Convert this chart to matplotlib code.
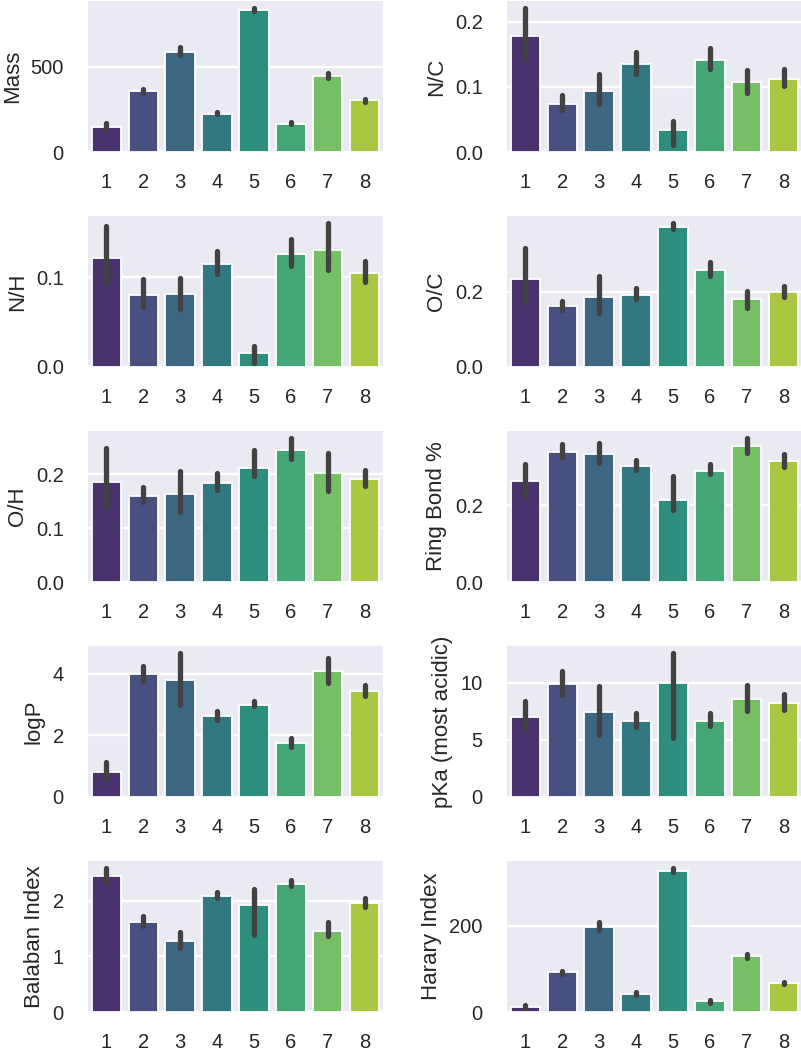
import colorsys
import numpy as np
import matplotlib
matplotlib.use("Agg")
import matplotlib.pyplot as plt

# ---------------- data ----------------
categories = ["1", "2", "3", "4", "5", "6", "7", "8"]

mass_mean = [149, 358, 585, 223, 831, 165, 446, 304]
mass_lo = [136, 347, 570, 221, 827, 163, 434, 295]
mass_hi = [170, 370, 616, 233, 843, 174, 465, 312]
mass_ticks = [0, 500]

nc_mean = [0.178, 0.073, 0.094, 0.135, 0.033, 0.141, 0.107, 0.112]
nc_lo = [0.142, 0.065, 0.074, 0.120, 0.011, 0.128, 0.091, 0.101]
nc_hi = [0.2205, 0.087, 0.119, 0.153, 0.048, 0.159, 0.125, 0.127]
nc_ticks = [0.0, 0.1, 0.2]

nh_mean = [0.1216, 0.080, 0.081, 0.115, 0.016, 0.126, 0.131, 0.1045]
nh_lo = [0.094, 0.067, 0.065, 0.104, 0.004, 0.113, 0.108, 0.0944]
nh_hi = [0.157, 0.0985, 0.0996, 0.129, 0.024, 0.143, 0.1606, 0.118]
nh_ticks = [0.0, 0.1]

oc_mean = [0.2326, 0.162, 0.185, 0.192, 0.371, 0.257, 0.180, 0.199]
oc_lo = [0.1727, 0.1515, 0.1436, 0.1815, 0.3674, 0.241, 0.1577, 0.186]
oc_hi = [0.317, 0.176, 0.242, 0.209, 0.3815, 0.279, 0.2026, 0.214]
oc_ticks = [0.0, 0.2]

oh_mean = [0.185, 0.160, 0.163, 0.184, 0.212, 0.245, 0.202, 0.192]
oh_lo = [0.139, 0.149, 0.130, 0.171, 0.197, 0.229, 0.169, 0.1786]
oh_hi = [0.248, 0.177, 0.207, 0.202, 0.245, 0.267, 0.239, 0.2086]
oh_ticks = [0.0, 0.1, 0.2]

ring_mean = [0.263, 0.3405, 0.335, 0.3034, 0.2155, 0.291, 0.356, 0.3155]
ring_lo = [0.2233, 0.3276, 0.312, 0.293, 0.1888, 0.281, 0.338, 0.3017]
ring_hi = [0.3086, 0.360, 0.3638, 0.3198, 0.276, 0.3086, 0.3759, 0.3345]
ring_ticks = [0.0, 0.2]

logp_mean = [0.80, 3.97, 3.80, 2.61, 2.99, 1.74, 4.075, 3.44]
logp_lo = [0.58, 3.77, 2.97, 2.49, 2.95, 1.63, 3.70, 3.27]
logp_hi = [1.15, 4.25, 4.66, 2.80, 3.12, 1.91, 4.52, 3.645]
logp_ticks = [0, 2, 4]

pka_mean = [6.99, 9.86, 7.48, 6.67, 10.0, 6.70, 8.58, 8.20]
pka_lo = [5.83, 8.96, 5.39, 6.14, 5.19, 6.20, 7.51, 7.59]
pka_hi = [8.41, 11.07, 9.71, 7.39, 12.6, 7.33, 9.80, 9.04]
pka_ticks = [0, 5, 10]

balaban_mean = [2.438, 1.615, 1.272, 2.089, 1.917, 2.30, 1.456, 1.947]
balaban_lo = [2.337, 1.55, 1.154, 2.04, 1.39, 2.266, 1.361, 1.88]
balaban_hi = [2.58, 1.72, 1.438, 2.154, 2.207, 2.373, 1.62, 2.047]
balaban_ticks = [0, 1, 2]

harary_mean = [12.3, 92.3, 197, 42.3, 327, 24.6, 129, 67]
harary_lo = [10, 89, 191, 39, 324, 22, 126, 64]
harary_hi = [16, 96, 210, 46, 334, 28, 135, 70]
harary_ticks = [0, 200]

panels = [
    ("Mass", mass_mean, mass_lo, mass_hi, mass_ticks, "{:g}"),
    ("N/C", nc_mean, nc_lo, nc_hi, nc_ticks, "{:.1f}"),
    ("N/H", nh_mean, nh_lo, nh_hi, nh_ticks, "{:.1f}"),
    ("O/C", oc_mean, oc_lo, oc_hi, oc_ticks, "{:.1f}"),
    ("O/H", oh_mean, oh_lo, oh_hi, oh_ticks, "{:.1f}"),
    ("Ring Bond %", ring_mean, ring_lo, ring_hi, ring_ticks, "{:.1f}"),
    ("logP", logp_mean, logp_lo, logp_hi, logp_ticks, "{:g}"),
    ("pKa (most acidic)", pka_mean, pka_lo, pka_hi, pka_ticks, "{:g}"),
    ("Balaban Index", balaban_mean, balaban_lo, balaban_hi, balaban_ticks, "{:g}"),
    ("Harary Index", harary_mean, harary_lo, harary_hi, harary_ticks, "{:g}"),
]

# ---------------- style ----------------
plt.rcParams["font.family"] = ["Liberation Sans", "DejaVu Sans"]
text_color = (0.15, 0.15, 0.15)
bg = "#EAEAF2"

cmap = matplotlib.colormaps["viridis"]
raw = [cmap(v) for v in np.linspace(0, 1, len(categories) + 2)[1:-1]]
colors = []
for c in raw:
    h, l, s = colorsys.rgb_to_hls(*c[:3])
    colors.append(colorsys.hls_to_rgb(h, l, s * 0.75))

W, H = 801, 1050
fig = plt.figure(figsize=(W / 100, H / 100), dpi=100)
fig.patch.set_facecolor("white")

ax_w = 295
col_left = [88, 507]
ax_h = 151
x = np.arange(len(categories))

for k, (label, mean, lo, hi, ticks, fmt) in enumerate(panels):
    row, col = divmod(k, 2)
    top_px = 1 + 215 * row
    left = col_left[col] / W
    bottom = 1 - (top_px + ax_h) / H
    ax = fig.add_axes([left, bottom, ax_w / W, ax_h / H])
    ax.set_facecolor(bg)
    for s in ax.spines.values():
        s.set_visible(False)
    ax.set_axisbelow(True)
    ax.yaxis.grid(True, color="white", linewidth=1.7)
    ax.xaxis.grid(False)

    ax.bar(x, mean, width=0.8, color=colors, edgecolor="white", linewidth=1.3, zorder=2)
    for i in range(len(categories)):
        ax.plot([x[i], x[i]], [lo[i], hi[i]], color=(0.26, 0.26, 0.26),
                linewidth=3.8, solid_capstyle="round", zorder=3)

    ax.set_xlim(-0.5, len(categories) - 0.5)
    ax.set_ylim(bottom=0)
    ax.set_xticks(x)
    ax.set_xticklabels(categories)
    ax.set_yticks(ticks)
    ax.set_yticklabels([fmt.format(t) for t in ticks])
    ax.tick_params(axis="x", length=0, pad=15, labelsize=14.5, colors=text_color)
    ax.tick_params(axis="y", length=0, pad=17.5, labelsize=14.5, colors=text_color)
    ax.set_ylabel(label, fontsize=16, color=text_color, labelpad=5.5)

fig.savefig("out.png", dpi=100)
